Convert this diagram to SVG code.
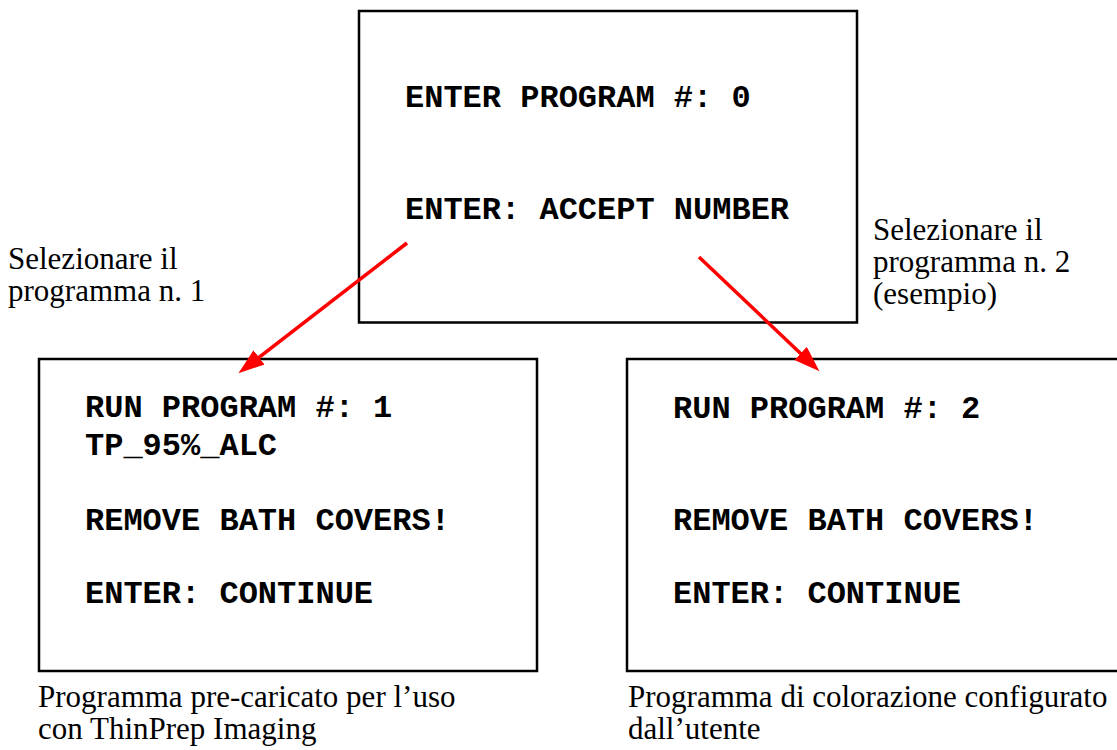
<svg xmlns="http://www.w3.org/2000/svg" width="1117" height="750" viewBox="0 0 1117 750">
<style>
.box{fill:#fff;stroke:#000;stroke-width:2.5}
.mono{font-family:"Liberation Mono","Courier New",monospace;font-weight:bold;font-size:32px;fill:#000}
.ser{font-family:"Liberation Serif","Times New Roman",serif;font-size:31px;fill:#000}
.arr{stroke:#ff0000;stroke-width:3.5;fill:none}
</style>
<defs>
<marker id="ah" markerUnits="userSpaceOnUse" markerWidth="28" markerHeight="20" refX="12" refY="9" orient="auto">
<path d="M0,0 L26,9 L0,18 Z" fill="#ff0000"/>
</marker>
</defs>
<rect width="1117" height="750" fill="#fff"/>
<g id="top-screen">
<rect class="box" x="359" y="11" width="498" height="311.5"/>
<text class="mono" x="405" y="107">ENTER PROGRAM #: 0</text>
<text class="mono" x="405" y="219">ENTER: ACCEPT NUMBER</text>
</g>
<g id="left-screen">
<rect class="box" x="39" y="359" width="498" height="312"/>
<text class="mono" x="85" y="417">RUN PROGRAM #: 1</text>
<text class="mono" x="85" y="455">TP_95%_ALC</text>
<text class="mono" x="85" y="530">REMOVE BATH COVERS!</text>
<text class="mono" x="85" y="603">ENTER: CONTINUE</text>
</g>
<g id="right-screen">
<rect class="box" x="627" y="359" width="500" height="312"/>
<text class="mono" x="673" y="418">RUN PROGRAM #: 2</text>
<text class="mono" x="673" y="530">REMOVE BATH COVERS!</text>
<text class="mono" x="673" y="603">ENTER: CONTINUE</text>
</g>
<g id="label-left">
<text class="ser" x="8" y="269">Selezionare il</text>
<text class="ser" x="8" y="301">programma n. 1</text>
</g>
<g id="label-right">
<text class="ser" x="873" y="240">Selezionare il</text>
<text class="ser" x="873" y="272">programma n. 2</text>
<text class="ser" x="873" y="304">(esempio)</text>
</g>
<g id="caption-left">
<text class="ser" x="38" y="707">Programma pre-caricato per l’uso</text>
<text class="ser" x="38" y="739">con ThinPrep Imaging</text>
</g>
<g id="caption-right">
<text class="ser" x="628" y="707">Programma di colorazione configurato</text>
<text class="ser" x="628" y="739">dall’utente</text>
</g>
<g id="connectors">
<line class="arr" x1="407" y1="243" x2="249.5" y2="364.7" marker-end="url(#ah)"/>
<line class="arr" x1="699" y1="257" x2="809.3" y2="361.7" marker-end="url(#ah)"/>
</g>
</svg>
